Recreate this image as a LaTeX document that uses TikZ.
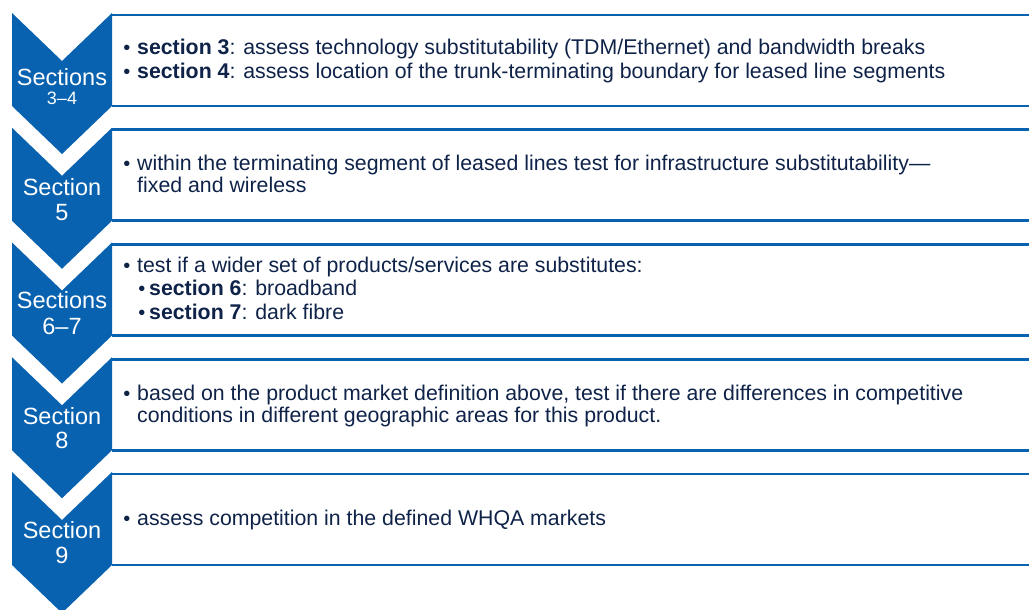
\documentclass[tikz,border=0pt]{standalone}
\usepackage{fontspec}
\setmainfont{Liberation Sans}
\definecolor{chevblue}{HTML}{0862B0}
\definecolor{inktext}{HTML}{0F2349}
\begin{document}
\begin{tikzpicture}[x=1pt,y=-1pt,
  chevron/.style={fill=chevblue,draw=none},
  rule/.style={draw=chevblue,line width=2.8pt},
  lab/.style={text=white,anchor=base,inner sep=0pt,font=\fontsize{23.5}{26}\selectfont},
  labsmall/.style={lab,font=\fontsize{18}{20}\selectfont},
  body/.style={text=inktext,anchor=base west,inner sep=0pt,font=\fontsize{21.3}{23}\selectfont},
  dot/.style={text=inktext,anchor=base,inner sep=0pt,font=\fontsize{20}{22}\selectfont}]
\useasboundingbox (0,0) rectangle (1029,610);
\fill[white] (0,0) rectangle (1029,610);

% chevrons and the rules framing each text panel
\foreach \t in {13,127.75,242.5,357.25,472}{
  \path[chevron] (12,\t) -- (62,\t+48) -- (112,\t) -- (112,\t+93)
        -- (62,\t+141) -- (12,\t+93) -- cycle;
  \draw[rule] (112,\t+2) -- (1029,\t+2);
  \draw[rule] (112,\t+93) -- (1029,\t+93);
}

% chevron labels
\node[lab] (l1a) at (62,85) {Sections};
\node[labsmall] (l1b) at (62,104) {3–4};
\node[lab] (l2a) at (62,195) {Section};
\node[lab] (l2b) at (62,220) {5};
\node[lab] (l3a) at (62,308) {Sections};
\node[lab] (l3b) at (62,334) {6–7};
\node[lab] (l4a) at (62,424) {Section};
\node[lab] (l4b) at (62,448) {8};
\node[lab] (l5a) at (62,538) {Section};
\node[lab] (l5b) at (62,563) {9};

% panel 1
\node[dot] (d1) at (127,55) {•};
\node[body] (t1) at (137,55) {\textbf{section 3}: assess technology substitutability (TDM/Ethernet) and bandwidth breaks};
\node[dot] (d2) at (127,79) {•};
\node[body] (t2) at (137,79) {\textbf{section 4}: assess location of the trunk-terminating boundary for leased line segments};

% panel 2
\node[dot] (d3) at (127,170) {•};
\node[body] (t3) at (137,170) {within the terminating segment of leased lines test for infrastructure substitutability—};
\node[body] (t4) at (137,192) {fixed and wireless};

% panel 3
\node[dot] (d5) at (127,272) {•};
\node[body] (t5) at (137,272) {test if a wider set of products/services are substitutes:};
\node[dot] (d6) at (142,295) {•};
\node[body] (t6) at (149,295) {\textbf{section 6}: broadband};
\node[dot] (d7) at (142,319) {•};
\node[body] (t7) at (149,319) {\textbf{section 7}: dark fibre};

% panel 4
\node[dot] (d8) at (127,400) {•};
\node[body] (t8) at (137,400) {based on the product market definition above, test if there are differences in competitive};
\node[body] (t9) at (137,422) {conditions in different geographic areas for this product.};

% panel 5
\node[dot] (d10) at (127,525) {•};
\node[body] (t10) at (137,525) {assess competition in the defined WHQA markets};
\end{tikzpicture}
\end{document}
